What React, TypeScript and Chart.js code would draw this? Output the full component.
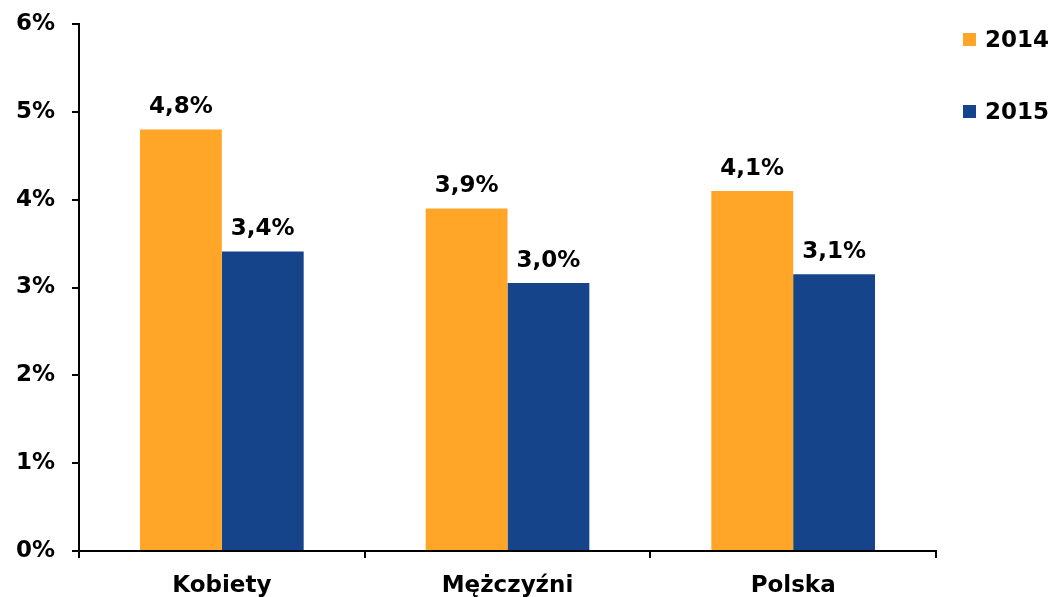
import React, { useEffect, useRef } from "react";
import { Chart, registerables } from "chart.js";

Chart.register(...registerables);

const categories = ["Kobiety", "Mężczyźni", "Polska"];
const seriesNames = ["2014", "2015"];
const values2014 = [4.8, 3.9, 4.1];
const values2015 = [3.41, 3.05, 3.15];
const labels2014 = ["4,8%", "3,9%", "4,1%"];
const labels2015 = ["3,4%", "3,0%", "3,1%"];
const yTicks = [0, 1, 2, 3, 4, 5, 6];
const colors = ["#FFA629", "#15448B"];

const FONT = "'DejaVu Sans', Verdana, sans-serif";
const FSIZE = 23;

export default function App() {
  const ref = useRef<HTMLCanvasElement | null>(null);

  useEffect(() => {
    if (!ref.current) return;
    const valueLabels = [labels2014, labels2015];

    const dataLabelPlugin = {
      id: "dataLabels",
      afterDatasetsDraw(chart: any) {
        const ctx = chart.ctx;
        ctx.save();
        ctx.font = `bold ${FSIZE}px ${FONT}`;
        ctx.fillStyle = "#000";
        ctx.textAlign = "center";
        ctx.textBaseline = "alphabetic";
        chart.data.datasets.forEach((ds: any, i: number) => {
          const meta = chart.getDatasetMeta(i);
          meta.data.forEach((bar: any, j: number) => {
            ctx.fillText(valueLabels[i][j], bar.x, bar.y - 16);
          });
        });
        ctx.restore();
      },
    };

    const legendPlugin = {
      id: "customLegend",
      afterDraw(chart: any) {
        const ctx = chart.ctx;
        ctx.save();
        ctx.font = `bold ${FSIZE}px ${FONT}`;
        ctx.textAlign = "left";
        ctx.textBaseline = "alphabetic";
        chart.data.datasets.forEach((ds: any, i: number) => {
          const y = 33 + i * 72;
          ctx.fillStyle = ds.backgroundColor;
          ctx.fillRect(963, y, 13, 13);
          ctx.fillStyle = "#000";
          ctx.fillText(ds.label, 985, y + 14);
        });
        ctx.restore();
      },
    };

    const chart = new Chart(ref.current, {
      type: "bar",
      data: {
        labels: categories,
        datasets: [
          { label: seriesNames[0], data: values2014, backgroundColor: colors[0] },
          { label: seriesNames[1], data: values2015, backgroundColor: colors[1] },
        ],
      },
      options: {
        responsive: false,
        animation: false,
        devicePixelRatio: 1,
        layout: { padding: { top: 24, right: 117, bottom: 0, left: 0 } },
        datasets: {
          bar: { categoryPercentage: 0.573, barPercentage: 1 },
        },
        plugins: {
          legend: { display: false },
          tooltip: { enabled: false },
        },
        scales: {
          x: {
            offset: true,
            grid: {
              offset: true,
              drawOnChartArea: false,
              drawTicks: true,
              tickLength: 7,
              color: "#000",
              lineWidth: 2,
            },
            border: { display: true, color: "#000", width: 2 },
            ticks: {
              color: "#000",
              padding: 14,
              font: { family: FONT, size: FSIZE, weight: "bold" },
            },
            afterFit(scale: any) {
              scale.height = 46;
              scale.paddingLeft = 0;
              scale.paddingRight = 0;
            },
          },
          y: {
            min: 0,
            max: 6,
            afterBuildTicks(scale: any) {
              scale.ticks = yTicks.map((v) => ({ value: v }));
            },
            grid: {
              drawOnChartArea: false,
              drawTicks: true,
              tickLength: 7,
              color: "#000",
              lineWidth: 2,
            },
            border: { display: true, color: "#000", width: 2 },
            ticks: {
              color: "#000",
              padding: 17,
              font: { family: FONT, size: FSIZE, weight: "bold" },
              callback: (v: any) => `${v}%`,
            },
            afterFit(scale: any) {
              scale.width = 79;
              scale.paddingTop = 0;
              scale.paddingBottom = 0;
            },
          },
        },
      },
      plugins: [dataLabelPlugin, legendPlugin],
    });

    return () => chart.destroy();
  }, []);

  return (
    <div style={{ position: "fixed", left: 0, top: 0, width: 1053, height: 597, background: "#fff" }}>
      <canvas ref={ref} width={1053} height={597} />
    </div>
  );
}
